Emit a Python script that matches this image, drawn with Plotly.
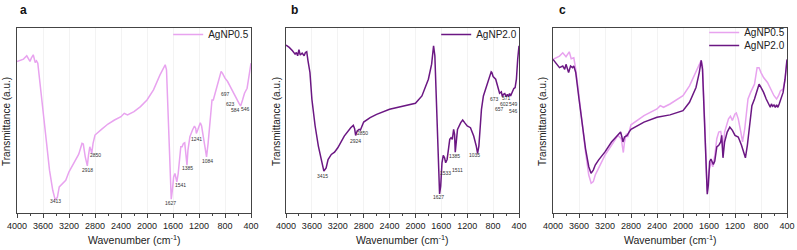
import plotly.graph_objects as go

# ---------------- data (arbitrary transmittance units) ----------------
wn_a = [4000, 3900, 3850, 3800, 3780, 3750, 3720, 3700, 3680, 3650, 3600, 3550, 3500, 3450, 3413, 3380,
        3350, 3300, 3250, 3200, 3100, 3050, 3000, 2980, 2950, 2918, 2900, 2880, 2860, 2850, 2830, 2800,
        2700, 2600, 2500, 2400, 2350, 2300, 2200, 2100, 2000, 1900, 1800, 1750, 1720, 1700, 1690, 1670,
        1650, 1627, 1610, 1590, 1570, 1550, 1541, 1520, 1500, 1480, 1460, 1440, 1420, 1400, 1385, 1370,
        1340, 1300, 1270, 1250, 1241, 1220, 1200, 1180, 1160, 1140, 1110, 1084, 1060, 1040, 1020, 1000,
        980, 960, 940, 900, 880, 860, 840, 820, 800, 760, 720, 697, 660, 623, 600, 584, 560, 546, 530,
        500, 480, 460, 440, 420, 400]
t_a = [453, 460, 470, 453, 463, 473, 450, 455, 448, 398, 308, 218, 128, 68, 40, 46,
       78, 88, 98, 123, 158, 176, 208, 206, 168, 141, 173, 198, 186, 178, 208, 233,
       250, 266, 278, 288, 298, 293, 303, 318, 338, 368, 413, 433, 443, 428, 378, 278,
       158, 41, 68, 108, 118, 103, 93, 118, 158, 198, 198, 208, 210, 178, 143, 188,
       228, 248, 260, 253, 238, 248, 263, 270, 260, 238, 198, 168, 208, 258, 308, 338,
       338, 353, 368, 393, 413, 423, 418, 408, 403, 393, 378, 368, 353, 338, 333, 328, 320, 326, 338,
       358, 368, 373, 398, 423, 448]

wn_b = [4000, 3950, 3900, 3860, 3840, 3820, 3800, 3780, 3750, 3720, 3700, 3680, 3660, 3630, 3600, 3550,
        3500, 3450, 3415, 3380, 3350, 3300, 3250, 3200, 3100, 3000, 2960, 2940, 2924, 2900, 2870, 2850,
        2820, 2800, 2700, 2600, 2400, 2200, 2000, 1900, 1800, 1750, 1720, 1700, 1680, 1660, 1640, 1627,
        1610, 1590, 1570, 1550, 1533, 1511, 1490, 1470, 1450, 1430, 1410, 1395, 1385, 1370, 1350, 1300,
        1270, 1240, 1200, 1150, 1100, 1060, 1040, 1020, 1000, 980, 950, 900, 860, 830, 820, 800, 760,
        720, 700, 673, 657, 640, 620, 600, 580, 560, 546, 530, 510, 480, 460, 440, 420, 400]
t_b = [502, 495, 485, 475, 480, 470, 488, 472, 478, 470, 480, 482, 455, 420, 340, 260,
       200, 150, 125, 135, 160, 175, 182, 195, 230, 255, 262, 252, 232, 245, 250, 248,
       265, 272, 285, 295, 310, 318, 328, 350, 400, 445, 500, 470, 350, 210, 100, 57,
       80, 150, 172, 165, 150, 160, 190, 220, 225, 220, 250, 235, 182, 220, 250, 270,
       278, 270, 260, 255, 230, 200, 178, 200, 260, 310, 350, 380, 400, 422, 420, 408, 400,
       370, 358, 362, 348, 355, 357, 348, 355, 348, 357, 350, 360, 372, 375, 400, 460, 500]

wn_c05 = [4000, 3900, 3850, 3800, 3750, 3720, 3680, 3650, 3600, 3550, 3500, 3450, 3413, 3380, 3350, 3300,
          3200, 3100, 3000, 2950, 2918, 2900, 2870, 2850, 2820, 2800, 2600, 2400, 2350, 2300, 2200, 2000,
          1900, 1800, 1720, 1700, 1680, 1660, 1640, 1627, 1600, 1570, 1541, 1510, 1480, 1450, 1420, 1400,
          1385, 1360, 1300, 1270, 1241, 1200, 1180, 1150, 1110, 1084, 1050, 1000, 960, 900, 860, 830, 800,
          760, 700, 650, 600, 560, 530, 500, 460, 430, 400]
t_c05 = [465, 475, 485, 473, 488, 467, 470, 435, 355, 265, 185, 115, 90, 95, 115, 135,
         175, 205, 235, 225, 183, 215, 240, 230, 255, 267, 295, 315, 325, 320, 330, 355,
         385, 430, 462, 445, 365, 245, 125, 65, 125, 155, 140, 175, 225, 245, 247, 225,
         185, 245, 285, 293, 280, 300, 303, 285, 245, 215, 255, 345, 365, 390, 440, 440, 425,
         410, 395, 375, 355, 345, 355, 370, 375, 405, 460]

wn_c20 = [4000, 3950, 3900, 3850, 3820, 3800, 3760, 3730, 3700, 3680, 3650, 3600, 3550, 3500, 3450, 3415,
          3380, 3350, 3300, 3200, 3100, 3000, 2960, 2940, 2924, 2900, 2860, 2830, 2800, 2600, 2400, 2200,
          2000, 1900, 1800, 1750, 1720, 1700, 1680, 1660, 1640, 1627, 1610, 1590, 1570, 1533, 1511, 1480,
          1450, 1420, 1405, 1385, 1360, 1320, 1280, 1240, 1200, 1150, 1100, 1060, 1040, 1010, 980, 940,
          900, 860, 830, 800, 760, 720, 680, 657, 640, 620, 600, 580, 560, 540, 520, 490, 460, 430, 400]
t_c20 = [465, 453, 440, 445, 435, 450, 425, 445, 440, 445, 425, 345, 265, 195, 140, 120,
         130, 145, 160, 185, 215, 237, 245, 230, 215, 230, 235, 245, 253, 275, 290, 297,
         310, 335, 380, 425, 462, 435, 335, 215, 105, 57, 85, 155, 163, 147, 157, 200,
         205, 215, 235, 167, 215, 245, 260, 250, 235, 230, 205, 175, 167, 205, 265, 325,
         345, 375, 390, 380, 365, 345, 330, 320, 330, 323, 327, 320, 327, 320, 330, 345, 365, 405, 465]

series_names = ["AgNP0.5", "AgNP2.0"]
tick_vals = [4000, 3600, 3200, 2800, 2400, 2000, 1600, 1200, 800, 400]
tick_text = [str(v) for v in tick_vals]
panel_labels = ["a", "b", "c"]
x_title = "Wavenumber (cm<sup>-1</sup>)"
y_title = "Transmittance (a.u.)"

# peak labels: (text, wavenumber position, y position)
peaks_a = [("3413", 3413, 35), ("2918", 2918, 129), ("2850", 2790, 173), ("1627", 1636, 31),
           ("1541", 1492, 83), ("1385", 1373, 135), ("1241", 1235, 220), ("1084", 1070, 156),
           ("697", 793, 356), ("623", 710, 325), ("584", 633, 308), ("546", 489, 310)]
peaks_b = [("3415", 3429, 110), ("2924", 2931, 215), ("2850", 2813, 238), ("1627", 1646, 48),
           ("1533", 1538, 120), ("1511", 1353, 128), ("1385", 1389, 170), ("1035", 1080, 172),
           ("673", 782, 340), ("657", 695, 312), ("602", 618, 325), ("571", 590, 343),
           ("549", 480, 325), ("546", 480, 306)]

C05 = "#E8A3EF"
C20 = "#6B1783"

fig = go.Figure()
fig.add_trace(go.Scatter(x=wn_a, y=t_a, mode="lines", name=series_names[0],
                         line=dict(color=C05, width=1.5), xaxis="x", yaxis="y", legend="legend"))
fig.add_trace(go.Scatter(x=wn_b, y=t_b, mode="lines", name=series_names[1],
                         line=dict(color=C20, width=1.5), xaxis="x2", yaxis="y2", legend="legend2"))
fig.add_trace(go.Scatter(x=wn_c05, y=t_c05, mode="lines", name=series_names[0],
                         line=dict(color=C05, width=1.5), xaxis="x3", yaxis="y3", legend="legend3"))
fig.add_trace(go.Scatter(x=wn_c20, y=t_c20, mode="lines", name=series_names[1],
                         line=dict(color=C20, width=1.5), xaxis="x3", yaxis="y3", legend="legend4"))

W, H = 797, 250
xpix = [(17, 251), (286, 519), (553, 787)]
xdoms = [(a / W, b / W) for a, b in xpix]
ydom = ((250 - 213) / H, (250 - 28) / H)
yranges = [[0, 553], [0, 553], [0, 560]]
font_family = "Liberation Sans, Arial, sans-serif"

layout = dict(
    width=W, height=H, margin=dict(l=0, r=0, t=0, b=0, autoexpand=False),
    paper_bgcolor="white", plot_bgcolor="white",
    font=dict(family=font_family, color="#222", size=9),
    showlegend=True,
)
for i in range(3):
    sx = "" if i == 0 else str(i + 1)
    layout["xaxis" + sx] = dict(
        domain=list(xdoms[i]), anchor="y" + sx, range=[4000, 400], automargin=False,
        tickmode="array", tickvals=tick_vals, ticktext=tick_text,
        ticks="outside", ticklen=4, tickcolor="#444", tickwidth=1,
        minor=dict(dtick=200, ticks="outside", ticklen=2, tickcolor="#444", showgrid=False),
        showline=True, linecolor="#444", linewidth=1, mirror=True,
        showgrid=True, gridcolor="#f3f3f3", gridwidth=1, zeroline=False,
        tickfont=dict(size=9, color="#222"),
    )
    layout["yaxis" + sx] = dict(
        domain=list(ydom), anchor="x" + sx, range=yranges[i], automargin=False,
        showticklabels=False, ticks="", showgrid=False, zeroline=False,
        showline=True, linecolor="#444", linewidth=1, mirror=True,
    )
legend_common = dict(bgcolor="rgba(0,0,0,0)", font=dict(size=10, color="#222"),
                     xanchor="right", yanchor="top", itemwidth=30, tracegroupgap=0)
layout["legend"] = dict(legend_common, x=xdoms[0][1] + 0.004, y=(250 - 20) / H)
layout["legend2"] = dict(legend_common, x=xdoms[1][1] + 0.004, y=(250 - 20) / H)
layout["legend3"] = dict(legend_common, x=xdoms[2][1] + 0.004, y=(250 - 18) / H)
layout["legend4"] = dict(legend_common, x=xdoms[2][1] + 0.004, y=(250 - 31) / H)
fig.update_layout(**layout)

annotations = []
label_x = [18, 289, 557]
ytitle_x = [6, 276, 542]
for i, lab in enumerate(panel_labels):
    annotations.append(dict(text="<b>%s</b>" % lab, xref="paper", yref="paper",
                            x=label_x[i] / W, y=(250 - 10) / H, xanchor="left", yanchor="middle",
                            showarrow=False, font=dict(size=12, color="#111")))
    annotations.append(dict(text=x_title, xref="paper", yref="paper",
                            x=(xpix[i][0] + xpix[i][1]) / 2 / W, y=(250 - 239) / H,
                            xanchor="center", yanchor="middle", showarrow=False,
                            font=dict(size=10.5, color="#222")))
    annotations.append(dict(text=y_title, xref="paper", yref="paper", textangle=-90,
                            x=ytitle_x[i] / W, y=(250 - 122) / H,
                            xanchor="center", yanchor="middle", showarrow=False,
                            font=dict(size=10, color="#222")))
for txt, xx, yy in peaks_a:
    annotations.append(dict(text=txt, x=xx, y=yy, xref="x", yref="y", showarrow=False,
                            font=dict(size=5, color="#333")))
for txt, xx, yy in peaks_b:
    annotations.append(dict(text=txt, x=xx, y=yy, xref="x2", yref="y2", showarrow=False,
                            font=dict(size=5, color="#333")))
fig.update_layout(annotations=annotations)

fig.write_html("out.html", config={"displayModeBar": False},
               post_script="document.body.style.margin='0';document.body.style.overflow='hidden';")
